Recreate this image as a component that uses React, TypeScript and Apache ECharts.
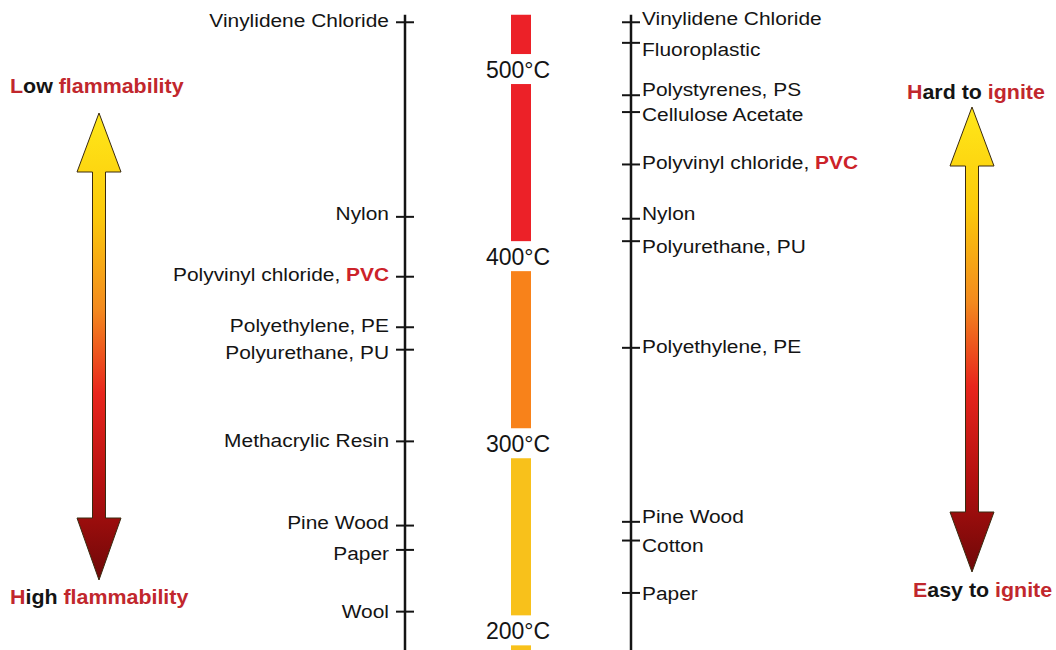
import React, { useEffect, useRef } from "react";
import * as echarts from "echarts";

// ---------- data ----------
const leftNames = [
  "Vinylidene Chloride",
  "Nylon",
  "Polyvinyl chloride, PVC",
  "Polyethylene, PE",
  "Polyurethane, PU",
  "Methacrylic Resin",
  "Pine Wood",
  "Paper",
  "Wool",
];
const leftTemps = [525, 421, 389, 362, 350, 301, 256, 243, 210];

const rightNames = [
  "Vinylidene Chloride",
  "Fluoroplastic",
  "Polystyrenes, PS",
  "Cellulose Acetate",
  "Polyvinyl chloride, PVC",
  "Nylon",
  "Polyurethane, PU",
  "Polyethylene, PE",
  "Pine Wood",
  "Cotton",
  "Paper",
];
const rightTemps = [525, 514, 486, 477, 449, 420, 408, 351, 258, 248, 220];

const tempTicks = [500, 400, 300, 200];
const bandTop = [529, 400, 300];
const bandBottom = [400, 300, 189.5];

// ---------- layout / style ----------
const W = 1056;
const H = 650;
const Y_MIN = 189.5;
const Y_MAX = 536.9;
const AXIS_TOP = 529;
const LEFT_X = 405;
const RIGHT_X = 631;
const BAR_X = 521;
const BAR_W = 20;
const BAND_COLORS = ["#ec2128", "#f8821a", "#f8c11b"];
const FONT = "'Liberation Sans', Arial, Helvetica, sans-serif";
const RED = "#c1272d";
const INK = "#141414";
// small vertical nudges of the labels (pixels), as in the original layout
const LEFT_LABEL_DY = [-2, -4, -2, -2, 3, -1, -3, 3, 0];
const RIGHT_LABEL_DY = [-4, 6, -6, 2, -2, -5, 5, -1, -5, 5, 0];

const fmtName = (s: string) => s.replace(", PVC", ", {pvc|PVC}");

const tickRich = {
  pvc: { fill: "#cc2229", fontWeight: "bold", fontSize: 19, fontFamily: FONT },
};

function tickSeries(
  names: string[],
  temps: number[],
  axisX: number,
  side: "left" | "right",
  dys: number[]
) {
  return {
    type: "custom",
    coordinateSystem: "cartesian2d",
    clip: false,
    z: 5,
    encode: { x: 0, y: 1 },
    data: temps.map((t) => [axisX, t]),
    renderItem: (params: any, api: any) => {
      const p = api.coord([api.value(0), api.value(1)]);
      const name = names[params.dataIndex];
      return {
        type: "group",
        children: [
          {
            type: "line",
            shape: { x1: p[0] - 9, y1: p[1], x2: p[0] + 9, y2: p[1] },
            style: { stroke: INK, lineWidth: 2 },
          },
          {
            type: "text",
            x: side === "left" ? p[0] - 16 : p[0] + 11,
            y: p[1] + (dys[params.dataIndex] || 0),
            scaleX: 1.1,
            style: {
              text: fmtName(name),
              fill: INK,
              fontSize: 19,
              fontFamily: FONT,
              align: side === "left" ? "right" : "left",
              verticalAlign: "middle",
              rich: tickRich,
            },
          },
        ],
      };
    },
  };
}

function arrow(cx: number, tipTop: number, baseTop: number, baseBot: number, tipBot: number) {
  const hh = 22;
  const hs = 6.5;
  return {
    type: "polygon",
    z: 10,
    shape: {
      points: [
        [cx, tipTop],
        [cx + hh, baseTop],
        [cx + hs, baseTop],
        [cx + hs, baseBot],
        [cx + hh, baseBot],
        [cx, tipBot],
        [cx - hh, baseBot],
        [cx - hs, baseBot],
        [cx - hs, baseTop],
        [cx - hh, baseTop],
      ],
    },
    style: {
      fill: new echarts.graphic.LinearGradient(0, 0, 0, 1, [
        { offset: 0, color: "#ffe81a" },
        { offset: 0.22, color: "#fbc90a" },
        { offset: 0.42, color: "#f38a1e" },
        { offset: 0.6, color: "#e8261c" },
        { offset: 0.8, color: "#b3100f" },
        { offset: 1, color: "#6e0808" },
      ]),
      stroke: "#3a2a10",
      lineWidth: 1,
    },
  };
}

function header(x: number, y: number, text: string) {
  return {
    type: "text",
    x,
    y,
    scaleX: 1.07,
    z: 10,
    style: {
      text,
      fill: INK,
      fontSize: 20,
      fontWeight: "bold",
      fontFamily: FONT,
      align: "left",
      verticalAlign: "middle",
      rich: {
        r: { fill: RED, fontSize: 20, fontWeight: "bold", fontFamily: FONT },
        k: { fill: INK, fontSize: 20, fontWeight: "bold", fontFamily: FONT },
      },
    },
  };
}

export default function App() {
  const ref = useRef<HTMLDivElement>(null);

  useEffect(() => {
    if (!ref.current) return;
    const chart = echarts.init(ref.current, null, { renderer: "svg" });
    const option: any = {
      animation: false,
      backgroundColor: "#ffffff",
      grid: { left: 0, right: 0, top: 0, bottom: 0 },
      xAxis: { type: "value", min: 0, max: W, show: false },
      yAxis: { type: "value", min: Y_MIN, max: Y_MAX, show: false },
      series: [
        // temperature colour bar
        {
          type: "custom",
          coordinateSystem: "cartesian2d",
          clip: false,
          z: 1,
          encode: { x: 0, y: 1 },
          data: bandTop.map((t, i) => [BAR_X, t, bandBottom[i]]),
          renderItem: (params: any, api: any) => {
            const a = api.coord([api.value(0), api.value(1)]);
            const b = api.coord([api.value(0), api.value(2)]);
            return {
              type: "rect",
              shape: { x: a[0] - BAR_W / 2, y: a[1], width: BAR_W, height: b[1] - a[1] },
              style: { fill: BAND_COLORS[params.dataIndex] },
            };
          },
        },
        // temperature labels
        {
          type: "custom",
          coordinateSystem: "cartesian2d",
          clip: false,
          z: 3,
          encode: { x: 0, y: 1 },
          data: tempTicks.map((t) => [BAR_X, t]),
          renderItem: (params: any, api: any) => {
            const p = api.coord([api.value(0), api.value(1)]);
            return {
              type: "group",
              children: [
                {
                  type: "rect",
                  shape: { x: p[0] - 14, y: p[1] - 15, width: 28, height: 30 },
                  style: { fill: "#ffffff" },
                },
                {
                  type: "text",
                  x: p[0] - 3,
                  y: p[1] + 1,
                  style: {
                    text: `${api.value(1)}°C`,
                    fill: INK,
                    fontSize: 23,
                    fontFamily: FONT,
                    align: "center",
                    verticalAlign: "middle",
                  },
                },
              ],
            };
          },
        },
        // vertical axis lines
        {
          type: "line",
          symbol: "none",
          silent: true,
          z: 4,
          lineStyle: { color: INK, width: 2.5 },
          data: [
            [LEFT_X, AXIS_TOP],
            [LEFT_X, Y_MIN],
          ],
        },
        {
          type: "line",
          symbol: "none",
          silent: true,
          z: 4,
          lineStyle: { color: INK, width: 2.5 },
          data: [
            [RIGHT_X, AXIS_TOP],
            [RIGHT_X, Y_MIN],
          ],
        },
        tickSeries(leftNames, leftTemps, LEFT_X, "left", LEFT_LABEL_DY),
        tickSeries(rightNames, rightTemps, RIGHT_X, "right", RIGHT_LABEL_DY),
      ],
      graphic: [
        arrow(99, 113, 172, 518, 580),
        arrow(972, 107, 166, 512, 572),
        header(10, 86, "{r|L}{k|ow} {r|flammability}"),
        header(10, 597, "{r|H}{k|igh} {r|flammability}"),
        header(907, 92, "{r|H}{k|ard to} {r|ignite}"),
        header(913, 590, "{r|E}{k|asy to} {r|ignite}"),
      ],
    };
    chart.setOption(option);
    return () => chart.dispose();
  }, []);

  return (
    <div
      ref={ref}
      style={{ position: "absolute", left: 0, top: 0, width: W, height: H, background: "#fff" }}
    />
  );
}
